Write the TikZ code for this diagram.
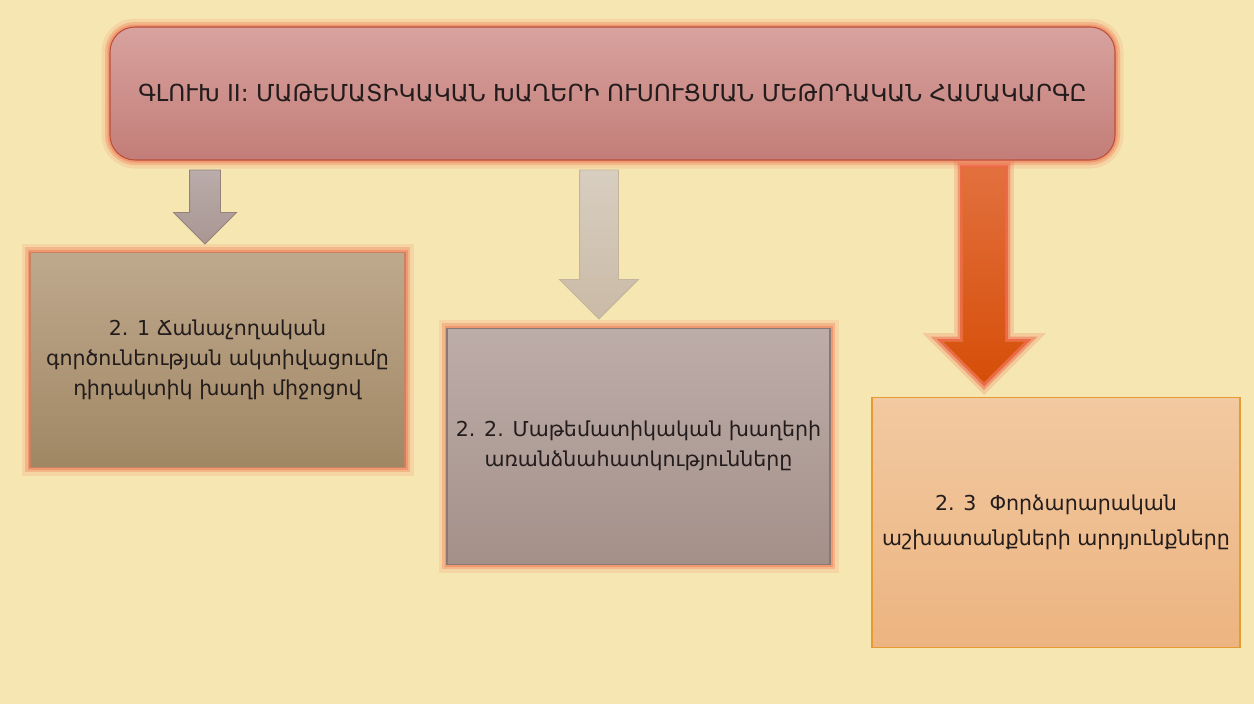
\documentclass[tikz,border=0pt]{standalone}
\usepackage{fontspec}
\setmainfont{DejaVu Sans}
\usetikzlibrary{shapes.arrows, positioning}

\definecolor{bgyellow}{RGB}{245,230,178}
\definecolor{glowor}{RGB}{240,145,105}
\definecolor{glowred}{RGB}{236,95,65}
\definecolor{textdark}{RGB}{35,28,28}

\tikzset{
    glow/.style={preaction={draw=#1, line width=0.34cm, opacity=0.2},
                 preaction={draw=#1, line width=0.2cm, opacity=0.45},
                 preaction={draw=#1, line width=0.1cm, opacity=0.8}},
    partbox/.style={draw, line width=0.6pt, align=center, text=textdark, inner sep=2pt,
                    font=\fontsize{11.7}{17}\selectfont},
    blockarrow/.style={single arrow, rotate=-90, draw, line width=0.5pt,
                       inner sep=0pt, anchor=tail}
}

\begin{document}
\begin{tikzpicture}
    \fill[bgyellow] (0,0) rectangle (25.08,-14.08);
    \useasboundingbox (0,0) rectangle (25.08,-14.08);

    % Chapter title
    \node[draw={rgb,255:red,185;green,80;blue,60}, line width=0.6pt, rounded corners=0.5cm,
          top color={rgb,255:red,216;green,162;blue,158}, bottom color={rgb,255:red,195;green,125;blue,120},
          glow=glowor, minimum width=20.1cm, minimum height=2.66cm, text=textdark,
          font=\fontsize{13.3}{15}\selectfont] (title) at (12.25,-1.87)
          {ԳԼՈՒԽ II: ՄԱԹԵՄԱՏԻԿԱԿԱՆ ԽԱՂԵՐԻ ՈՒՍՈՒՑՄԱՆ ՄԵԹՈԴԱԿԱՆ ՀԱՄԱԿԱՐԳԸ};

    % Arrows
    \node[blockarrow, draw={rgb,255:red,150;green,130;blue,122}, inner ysep=0.3cm,
          single arrow head extend=0.32cm, minimum height=1.48cm,
          top color={rgb,255:red,186;green,172;blue,170}, bottom color={rgb,255:red,168;green,150;blue,146}]
          (ar1) at ([xshift=-8.15cm, yshift=-0.18cm]title.south) {};
    \node[blockarrow, draw={rgb,255:red,195;green,180;blue,155}, inner ysep=0.38cm,
          single arrow head extend=0.4cm, minimum height=2.98cm,
          top color={rgb,255:red,216;green,206;blue,192}, bottom color={rgb,255:red,202;green,186;blue,166}]
          (ar2) at ([xshift=-0.27cm, yshift=-0.18cm]title.south) {};
    \node[blockarrow, draw={rgb,255:red,225;green,110;blue,50}, inner ysep=0.42cm,
          single arrow head extend=0.4cm, minimum height=4.3cm, glow=glowred,
          top color={rgb,255:red,226;green,112;blue,62}, bottom color={rgb,255:red,214;green,78;blue,8}]
          (ar3) at ([xshift=7.43cm, yshift=-0.14cm]title.south) {};

    % Sections
    \node[partbox, draw={rgb,255:red,200;green,130;blue,100}, glow=glowor,
          top color={rgb,255:red,191;green,169;blue,141}, bottom color={rgb,255:red,160;green,135;blue,100},
          minimum width=7.5cm, minimum height=4.3cm, anchor=north]
          (sec1) at ([xshift=0.25cm, yshift=-0.14cm]ar1.tip)
          {2. 1 Ճանաչողական\\ գործունեության ակտիվացումը\\ դիդակտիկ խաղի միջոցով};
    \node[partbox, draw={rgb,255:red,140;green,120;blue,115}, glow=glowor,
          top color={rgb,255:red,189;green,173;blue,169}, bottom color={rgb,255:red,164;green,144;blue,137},
          minimum width=7.66cm, minimum height=4.72cm, anchor=north]
          (sec2) at ([xshift=0.79cm, yshift=-0.16cm]ar2.tip)
          {2. 2. Մաթեմատիկական խաղերի\\ առանձնահատկությունները};
    \node[partbox, draw={rgb,255:red,230;green,155;blue,50},
          top color={rgb,255:red,242;green,201;blue,161}, bottom color={rgb,255:red,236;green,180;blue,128},
          font=\fontsize{11.7}{20}\selectfont,
          minimum width=7.36cm, minimum height=5cm, anchor=north]
          (sec3) at ([xshift=1.44cm, yshift=-0.26cm]ar3.tip)
          {2. 3~~Փորձարարական\\ աշխատանքների արդյունքները};
\end{tikzpicture}
\end{document}
